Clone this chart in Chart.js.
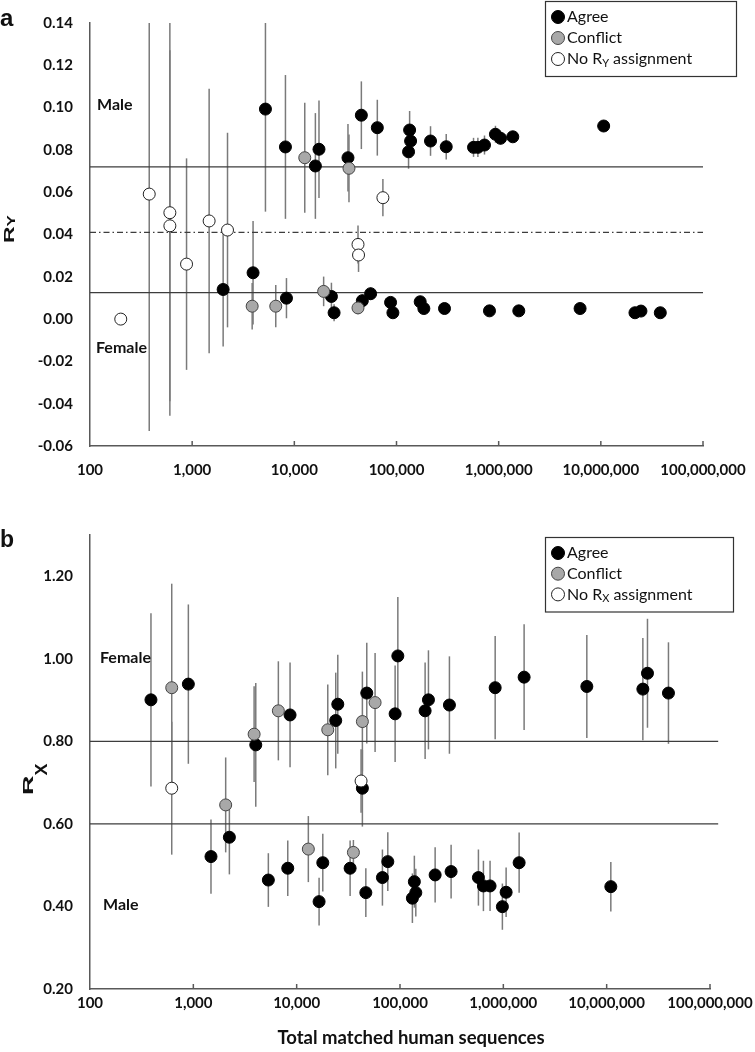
<!DOCTYPE html>
<html>
<head>
<meta charset="utf-8">
<script src="https://cdn.jsdelivr.net/npm/chart.js@4.4.1/dist/chart.umd.min.js"></script>
<style>
	html, body { margin: 0; padding: 0; background: #fff; }
	#wrap { position: relative; width: 755px; height: 1052px; }
	#wrap canvas { position: absolute; left: 0; }
	#cA { top: 0; }
	#cB { top: 495px; }
</style>
</head>
<body>
<div id="wrap">
	<canvas id="cA" width="755" height="495"></canvas>
	<canvas id="cB" width="755" height="557"></canvas>
</div>
<script>
	'use strict';

	// shared x axis: total matched human sequences (log)
	var xTicks = [100, 1000, 10000, 100000, 1000000, 10000000, 100000000];

	// panel a: R_Y
	var ryTicks = [-0.06, -0.04, -0.02, 0, 0.02, 0.04, 0.06, 0.08, 0.10, 0.12, 0.14];
	var ryAgreeX = [2010, 3945, 8375, 23070, 24500, 46300, 55800, 87500, 92200, 170600, 185200, 295000, 813000, 1574000, 6265000, 21580000, 24700000, 38200000,
		5215, 8185, 16070, 17430, 33500, 45290, 64900, 131200, 134400, 137400, 215300, 306700, 567500, 626000, 726600, 930000, 1043000, 1375000, 10660000];
	var ryAgreeY = [0.0140, 0.0219, 0.0099, 0.0107, 0.0030, 0.0087, 0.0120, 0.0079, 0.0030, 0.0082, 0.0050, 0.0050, 0.0039, 0.0039, 0.0050, 0.0030, 0.0038, 0.0030,
		0.0993, 0.0814, 0.0724, 0.0803, 0.0763, 0.0964, 0.0905, 0.0791, 0.0894, 0.0842, 0.0842, 0.0815, 0.0812, 0.0812, 0.0823, 0.0874, 0.0855, 0.0862, 0.0913];
	var ryAgreeErr = [0.027, 0.0245, 0.0095, 0.0065, 0.004, 0.003, 0.003, 0.002, 0, 0, 0, 0, 0, 0, 0, 0, 0, 0,
		0.0485, 0.034, 0.025, 0.023, 0.016, 0.016, 0.0132, 0.008, 0.009, 0.008, 0.007, 0.006, 0.0045, 0.0045, 0.0045, 0.004, 0.003, 0.002, 0];
	var ryConflictX = [3866, 6580, 19360, 41980, 12650, 34270];
	var ryConflictY = [0.0061, 0.0061, 0.0131, 0.0053, 0.0763, 0.0713];
	var ryConflictErr = [0.011, 0.010, 0.007, 0.003, 0.026, 0.016];
	var ryNoneX = [200, 380, 605, 605, 881, 1466, 2218, 42000, 42500, 73600];
	var ryNoneY = [0.000, 0.0591, 0.0503, 0.0441, 0.026, 0.0464, 0.0421, 0.0353, 0.0303, 0.0574];
	var ryNoneErr = [0, 0.112, 0.096, 0.083, 0.050, 0.0625, 0.046, 0.009, 0.008, 0.0088];
	var ryLineX = [100, 100000000];
	var ryMale = 0.072;
	var ryMid = 0.041;
	var ryFemale = 0.0125;

	// panel b: R_X
	var rxTicks = [0.20, 0.40, 0.60, 0.80, 1.00, 1.20];
	var rxAgreeX = [389, 895, 4020, 2233, 1482, 8630, 23880, 25000, 47700, 43250, 5320, 8200, 16480, 17900, 32900, 46700, 67600, 76200,
		137700, 142200, 131800, 218800, 312300, 574000, 641700, 744000, 979000, 1064000, 1422000, 10970000,
		95300, 89700, 175000, 188500, 300800, 833700, 1589000, 6427000, 22400000, 24830000, 39630000];
	var rxAgreeY = [0.9006, 0.9387, 0.7915, 0.5677, 0.5208, 0.864, 0.8505, 0.890, 0.917, 0.6865, 0.464, 0.4926, 0.4117, 0.506, 0.4926, 0.4335, 0.470, 0.5086,
		0.460, 0.4335, 0.420, 0.4764, 0.4845, 0.470, 0.4497, 0.4497, 0.3995, 0.4344, 0.506, 0.448,
		1.007, 0.8667, 0.874, 0.9006, 0.888, 0.930, 0.9556, 0.933, 0.9266, 0.965, 0.917];
	var rxAgreeErr = [0.21, 0.193, 0.15, 0.09, 0.09, 0.127, 0.116, 0.12, 0.122, 0.093, 0.065, 0.067, 0.058, 0.07, 0.067, 0.059, 0.068, 0.071,
		0.063, 0.058, 0.06, 0.067, 0.065, 0.068, 0.061, 0.061, 0.056, 0.06, 0.073, 0.06,
		0.143, 0.117, 0.117, 0.12, 0.118, 0.125, 0.128, 0.125, 0.124, 0.132, 0.123];
	var rxConflictX = [618, 3874, 2056, 6650, 20000, 43250, 57400, 12970, 35400];
	var rxConflictY = [0.930, 0.8174, 0.646, 0.874, 0.828, 0.848, 0.894, 0.539, 0.531];
	var rxConflictErr = [0.252, 0.116, 0.115, 0.12, 0.11, 0.121, 0.12, 0.08, 0.03];
	var rxNoneX = [618, 42000];
	var rxNoneY = [0.6865, 0.704];
	var rxNoneErr = [0.161, 0.077];
	var rxLineX = [100, 120000000];
	var rxFemale = 0.80;
	var rxMale = 0.60;

	var LATO = 'Lato, "Open Sans", sans-serif';
	var SANS = '"Liberation Sans", Arial, sans-serif';

	function pts(xs, ys) {
		return xs.map(function(x, i) { return { x: x, y: ys[i] }; });
	}

	function pointSet(label, xs, ys, errs, fill, edge, order) {
		return {
			label: label,
			data: pts(xs, ys),
			errorBars: errs,
			inBox: true,
			order: order,
			backgroundColor: fill,
			borderColor: edge,
			pointRadius: 6,
			pointHoverRadius: 6,
			pointBorderWidth: 1
		};
	}

	function refLine(xs, y, dash) {
		return {
			data: xs.map(function(x) { return { x: x, y: y }; }),
			showLine: true,
			pointRadius: 0,
			borderColor: '#3d3d3d',
			borderWidth: 1.3,
			borderDash: dash || [],
			clip: false,
			order: 4
		};
	}

	function xScale(height, pad) {
		return {
			type: 'logarithmic',
			min: 100,
			max: 100000000,
			afterBuildTicks: function(s) { s.ticks = xTicks.map(function(v) { return { value: v }; }); },
			afterFit: function(s) {
				s.height = height;
				s.paddingLeft = 0;
				s.paddingRight = 0;
			},
			grid: { display: false, drawTicks: false },
			border: { display: true, color: '#595959', width: 1.5 },
			ticks: {
				padding: pad, autoSkip: false, maxRotation: 0, color: '#111',
				font: { family: LATO, weight: 'bold', size: 15 },
				callback: function(v) { return Number(v).toLocaleString('en-US'); }
			}
		};
	}

	function yScale(min, max, tickList) {
		return {
			min: min,
			max: max,
			afterBuildTicks: function(s) { s.ticks = tickList.map(function(v) { return { value: v }; }); },
			afterFit: function(s) {
				s.width = 90;
				s.paddingTop = 0;
				s.paddingBottom = 0;
			},
			grid: { display: false, drawTicks: false },
			border: { display: true, color: '#595959', width: 1.5 },
			ticks: {
				padding: 17, color: '#111',
				font: { family: LATO, weight: 'bold', size: 15 },
				callback: function(v) { return Number(v).toFixed(2); }
			}
		};
	}

	function drawRotTitle(ctx, t) {
		ctx.save();
		ctx.translate(t.x, t.y);
		ctx.rotate(-Math.PI / 2);
		ctx.fillStyle = '#111';
		ctx.textBaseline = 'alphabetic';
		ctx.textAlign = 'left';
		ctx.font = 'bold ' + t.size + 'px ' + SANS;
		var w = ctx.measureText(t.main).width;
		ctx.save();
		ctx.scale(1, t.squish);
		ctx.fillText(t.main, 0, 0);
		ctx.restore();
		ctx.font = 'bold ' + t.subSize + 'px ' + SANS;
		ctx.save();
		ctx.translate(w, t.drop);
		ctx.scale(1, t.subSquish);
		ctx.fillText(t.sub, 0, 0);
		ctx.restore();
		ctx.restore();
	}

	// label text with "_" marking a one-letter subscript
	function fillSubText(ctx, text, x, y, size) {
		var i = text.indexOf('_');
		ctx.font = size + 'px ' + LATO;
		if (i < 0) { ctx.fillText(text, x, y); return; }
		var head = text.slice(0, i), sub = text.charAt(i + 1), tail = text.slice(i + 2);
		ctx.fillText(head, x, y);
		x += ctx.measureText(head).width;
		ctx.font = Math.round(size * 0.7) + 'px ' + LATO;
		ctx.fillText(sub, x, y + 4);
		x += ctx.measureText(sub).width;
		ctx.font = size + 'px ' + LATO;
		ctx.fillText(tail, x, y);
	}

	var decoPlugin = {
		id: 'deco',
		beforeDatasetsDraw: function(chart) {
			var ctx = chart.ctx, a = chart.chartArea, xs = chart.scales.x, ys = chart.scales.y;
			ctx.save();
			ctx.beginPath();
			ctx.rect(a.left, a.top, a.right - a.left, a.bottom - a.top);
			ctx.clip();
			ctx.strokeStyle = '#7a7a7a';
			ctx.lineWidth = 1.5;
			chart.data.datasets.forEach(function(ds) {
				if (!ds.errorBars) return;
				ds.data.forEach(function(p, i) {
					var e = ds.errorBars[i];
					if (!e) return;
					var px = xs.getPixelForValue(p.x);
					ctx.beginPath();
					ctx.moveTo(px, ys.getPixelForValue(p.y - e));
					ctx.lineTo(px, ys.getPixelForValue(p.y + e));
					ctx.stroke();
				});
			});
			ctx.restore();
		},
		afterDraw: function(chart, args, opts) {
			var ctx = chart.ctx, xs = chart.scales.x, a = chart.chartArea;
			ctx.save();

			// tick marks pointing into the plot
			ctx.strokeStyle = '#595959';
			ctx.lineWidth = 1.5;
			xTicks.slice(1).forEach(function(v) {
				var px = xs.getPixelForValue(v);
				ctx.beginPath();
				ctx.moveTo(px, a.bottom);
				ctx.lineTo(px, a.bottom - 5);
				ctx.stroke();
			});

			// boxed legend
			var b = opts.box;
			ctx.strokeStyle = '#333';
			ctx.lineWidth = 1.2;
			ctx.strokeRect(b.x, b.y, b.w, b.h);
			ctx.textBaseline = 'middle';
			ctx.textAlign = 'left';
			var row = 0;
			chart.data.datasets.forEach(function(ds) {
				if (!ds.inBox) return;
				var cy = b.y + b.first + row * b.step;
				ctx.beginPath();
				ctx.arc(b.x + 12.5, cy, 6.5, 0, Math.PI * 2);
				ctx.fillStyle = ds.backgroundColor;
				ctx.fill();
				ctx.strokeStyle = ds.borderColor;
				ctx.lineWidth = 1;
				ctx.stroke();
				ctx.fillStyle = '#111';
				fillSubText(ctx, ds.label, b.x + 21.5, cy, 16);
				row++;
			});

			// free labels
			opts.texts.forEach(function(t) {
				ctx.font = t.font;
				ctx.fillStyle = '#111';
				ctx.textAlign = t.align || 'left';
				ctx.textBaseline = t.base || 'middle';
				ctx.fillText(t.text, t.x, t.y);
			});
			drawRotTitle(ctx, opts.yTitle);
			ctx.restore();
		}
	};

	function makeChart(id, cfg) {
		return new Chart(document.getElementById(id).getContext('2d'), {
			type: 'scatter',
			data: { datasets: cfg.datasets },
			options: {
				responsive: false,
				animation: false,
				events: [],
				layout: { padding: cfg.padding },
				scales: { x: cfg.x, y: cfg.y },
				plugins: {
					legend: { display: false },
					tooltip: { enabled: false },
					deco: cfg.deco
				}
			},
			plugins: [decoPlugin]
		});
	}

	makeChart('cA', {
		datasets: [
			pointSet('Agree', ryAgreeX, ryAgreeY, ryAgreeErr, '#000000', '#000000', 3),
			pointSet('Conflict', ryConflictX, ryConflictY, ryConflictErr, '#a8a8a8', '#444444', 2),
			pointSet('No R_Y assignment', ryNoneX, ryNoneY, ryNoneErr, '#ffffff', '#222222', 1),
			refLine(ryLineX, ryMale),
			refLine(ryLineX, ryMid, [6, 3, 1.5, 3]),
			refLine(ryLineX, ryFemale)
		],
		padding: { left: 0, right: 52, top: 23, bottom: 0 },
		x: xScale(49, 15),
		y: yScale(-0.06, 0.14, ryTicks),
		deco: {
			box: { x: 545.5, y: 1.5, w: 191, h: 75, first: 15.5, step: 21 },
			texts: [
				{ text: 'a', x: 0, y: 26, font: 'bold 24px ' + SANS, base: 'alphabetic' },
				{ text: 'Male', x: 97, y: 105, font: 'bold 16px ' + LATO },
				{ text: 'Female', x: 96, y: 347.5, font: 'bold 16px ' + LATO }
			],
			yTitle: { main: 'R', sub: 'Y', x: 14, y: 243, size: 23, squish: 0.6, subSize: 17, subSquish: 0.66, drop: 1 }
		}
	});

	makeChart('cB', {
		datasets: [
			pointSet('Agree', rxAgreeX, rxAgreeY, rxAgreeErr, '#000000', '#000000', 3),
			pointSet('Conflict', rxConflictX, rxConflictY, rxConflictErr, '#a8a8a8', '#444444', 2),
			pointSet('No R_X assignment', rxNoneX, rxNoneY, rxNoneErr, '#ffffff', '#222222', 1),
			refLine(rxLineX, rxFemale),
			refLine(rxLineX, rxMale)
		],
		padding: { left: 0, right: 45, top: 40, bottom: 0 },
		x: xScale(63, 5.5),
		y: yScale(0.20, 1.30, rxTicks),
		deco: {
			box: { x: 545.5, y: 42.5, w: 188, h: 74.5, first: 15.5, step: 20.7 },
			texts: [
				{ text: 'b', x: 0, y: 51.5, font: 'bold 23px ' + SANS, base: 'alphabetic' },
				{ text: 'Female', x: 100, y: 162.7, font: 'bold 16px ' + LATO },
				{ text: 'Male', x: 103, y: 410, font: 'bold 16px ' + LATO },
				{ text: 'Total matched human sequences', x: 411, y: 543, font: 'bold 18.5px ' + LATO, align: 'center' }
			],
			yTitle: { main: 'R', sub: 'X', x: 33, y: 300, size: 27, squish: 0.57, subSize: 18, subSquish: 0.88, drop: 13.7 }
		}
	});
</script>
</body>
</html>
